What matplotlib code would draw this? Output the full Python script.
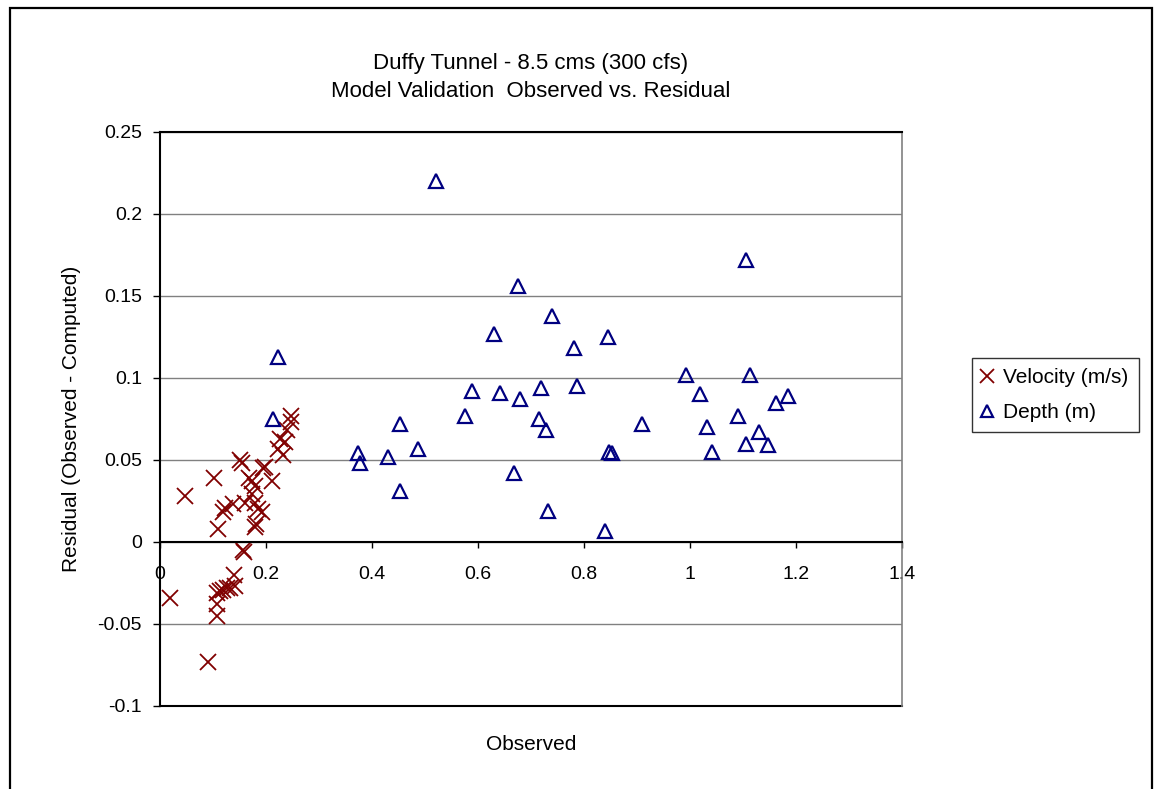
# Duffy Tunnel model validation - residual vs observed scatter

import numpy as np
import matplotlib.pyplot as plt
from matplotlib.patches import Rectangle

plt.rcParams['font.family'] = ['Liberation Sans', 'DejaVu Sans']


# Velocity (m/s): observed value and residual
vel_obs = [0.019, 0.048, 0.090, 0.102, 0.108, 0.108, 0.107, 0.109, 0.113, 0.119,
           0.119, 0.123, 0.126, 0.132, 0.138, 0.140, 0.142, 0.150, 0.154, 0.157,
           0.158, 0.160, 0.167, 0.173, 0.173, 0.179, 0.179, 0.179, 0.182, 0.185,
           0.192, 0.195, 0.198, 0.211, 0.223, 0.226, 0.233, 0.236, 0.239, 0.248,
           0.248]
vel_res = [-0.034, 0.028, -0.073, 0.039, -0.045, -0.038, -0.031, 0.008, -0.030, -0.029,
           0.018, 0.021, -0.028, -0.028, 0.023, -0.020, -0.027, 0.050, 0.048, -0.005,
           -0.006, 0.024, 0.039, 0.037, 0.029, 0.034, 0.024, 0.009, 0.011, 0.020,
           0.018, 0.045, 0.046, 0.037, 0.057, 0.063, 0.053, 0.061, 0.068, 0.073,
           0.077]

# Depth (m): observed value and residual
depth_obs = [0.521, 0.223, 0.213, 0.373, 0.377, 0.430, 0.453, 0.453, 0.486, 0.576,
             0.589, 0.630, 0.641, 0.675, 0.667, 0.679, 0.719, 0.716, 0.728, 0.732,
             0.739, 0.781, 0.787, 0.845, 0.848, 0.852, 0.840, 0.909, 0.992, 1.018,
             1.033, 1.041, 1.090, 1.105, 1.105, 1.113, 1.131, 1.147, 1.162, 1.184]
depth_res = [0.220, 0.113, 0.075, 0.054, 0.048, 0.052, 0.072, 0.031, 0.057, 0.077,
             0.092, 0.127, 0.091, 0.156, 0.042, 0.087, 0.094, 0.075, 0.068, 0.019,
             0.138, 0.118, 0.095, 0.125, 0.055, 0.054, 0.007, 0.072, 0.102, 0.090,
             0.070, 0.055, 0.077, 0.060, 0.172, 0.102, 0.067, 0.059, 0.085, 0.089]

x_ticks = np.arange(0, 1.41, 0.2)
x_labels = ['0', '0.2', '0.4', '0.6', '0.8', '1', '1.2', '1.4']
y_ticks = np.arange(-0.1, 0.251, 0.05)
y_labels = ['-0.1', '-0.05', '0', '0.05', '0.1', '0.15', '0.2', '0.25']


# Figure and plot area
W, H = 1158, 789
fig = plt.figure(figsize=(W / 100, H / 100), dpi=100)
ax = fig.add_axes([160 / W, 1 - 706 / H, 742 / W, 574 / H])

# outer chart border (runs off the bottom of the image)
fig.patches.append(Rectangle((10 / W, -0.1), 1142 / W, 1.1 - 8 / H,
                             transform=fig.transFigure, fill=False,
                             edgecolor='black', linewidth=1.6))


# Scatter series
ax.plot(vel_obs, vel_res, linestyle='none', marker='x', markersize=12,
        markeredgewidth=1.3, color='#800000', label='Velocity (m/s)')
ax.plot(depth_obs, depth_res, linestyle='none', marker='^', markersize=9.5,
        markeredgewidth=1.6, markerfacecolor='none', markeredgecolor='#000080',
        label='Depth (m)')


# Axes, grid and borders
ax.set_xlim(0, 1.4)
ax.set_ylim(-0.1, 0.25)
ax.set_xticks(x_ticks)
ax.set_xticklabels(x_labels)
ax.set_yticks(y_ticks)
ax.set_yticklabels(y_labels)

ax.grid(axis='y', color='#808080', linewidth=1.0)
ax.set_axisbelow(True)

ax.spines['bottom'].set_position(('data', 0))
ax.spines['bottom'].set_linewidth(1.5)
ax.spines['left'].set_linewidth(1.5)
ax.spines['top'].set_linewidth(1.5)
ax.spines['right'].set_color('#808080')
ax.spines['right'].set_linewidth(1.2)
ax.axhline(-0.1, color='black', linewidth=1.5, clip_on=False)

ax.tick_params(axis='x', direction='out', length=4, width=1, pad=13, labelsize=14)
ax.tick_params(axis='y', direction='out', length=5, width=1, pad=8, labelsize=14)

ax.set_title('Duffy Tunnel - 8.5 cms (300 cfs)\nModel Validation  Observed vs. Residual',
             fontsize=16, pad=25, linespacing=1.45)
ax.set_ylabel('Residual (Observed - Computed)', fontsize=15, labelpad=12)
fig.text(531 / W, 1 - 745 / H, 'Observed', fontsize=15, ha='center', va='center')


# Legend on the right
leg = fig.legend(loc='center left', bbox_to_anchor=(972 / W, 1 - 395 / H),
                 fontsize=15, frameon=True, fancybox=False, edgecolor='black',
                 handlelength=0.45, handletextpad=0.55, borderpad=0.5,
                 labelspacing=0.75, borderaxespad=0, markerscale=0.85)
leg.get_frame().set_linewidth(1.0)

plt.savefig('out.png', dpi=100)
